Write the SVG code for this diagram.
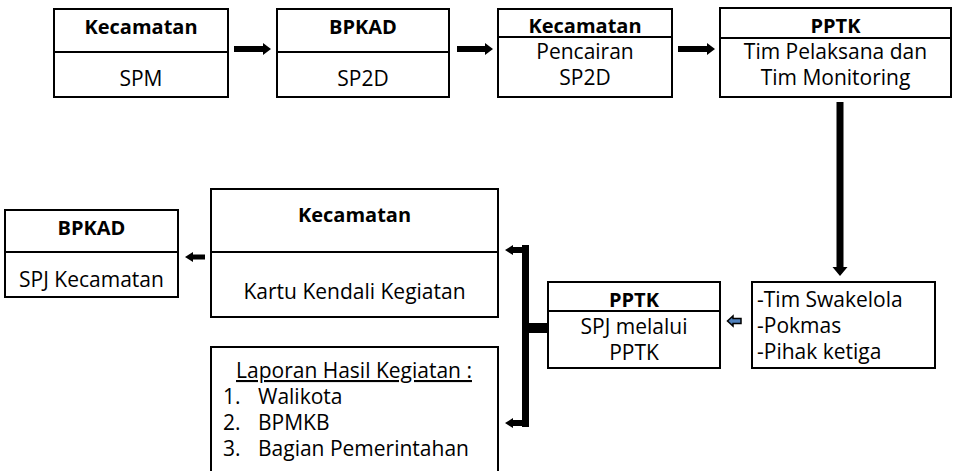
<svg xmlns="http://www.w3.org/2000/svg" width="954" height="471" viewBox="0 0 954 471">
<style>
.box{fill:#fff;stroke:#000;stroke-width:2}
.div{stroke:#000;stroke-width:2}
text{font-family:"Open Sans","Noto Sans","Liberation Sans",sans-serif;font-size:21px;fill:#000}
.c{text-anchor:middle}
.b{font-weight:bold;font-size:20px}
.arr{fill:#000;stroke:none}
</style>
<rect width="954" height="471" fill="#fff"/>
<g id="n1">
<rect class="box" x="54" y="9" width="174" height="88"/>
<line class="div" x1="54" y1="52" x2="228" y2="52"/>
<text class="c b" x="141" y="34">Kecamatan</text>
<text class="c" x="141" y="86">SPM</text>
</g>
<g id="n2">
<rect class="box" x="277" y="9" width="172" height="88"/>
<line class="div" x1="277" y1="52" x2="449" y2="52"/>
<text class="c b" x="363" y="34">BPKAD</text>
<text class="c" x="363" y="86">SP2D</text>
</g>
<g id="n3">
<rect class="box" x="498" y="9" width="174" height="88"/>
<line class="div" x1="498" y1="37" x2="672" y2="37"/>
<text class="c b" x="585" y="33">Kecamatan</text>
<text class="c"><tspan x="585" y="59">Pencairan</tspan><tspan x="585" y="85">SP2D</tspan></text>
</g>
<g id="n4">
<rect class="box" x="720" y="8" width="231" height="89"/>
<line class="div" x1="720" y1="38" x2="951" y2="38"/>
<text class="c b" x="835.5" y="33">PPTK</text>
<text class="c"><tspan x="835.5" y="59">Tim Pelaksana dan</tspan><tspan x="835.5" y="85">Tim Monitoring</tspan></text>
</g>
<g id="n5">
<rect class="box" x="752" y="282" width="183" height="86"/>
<text><tspan x="757" y="307">-Tim Swakelola</tspan><tspan x="757" y="333">-Pokmas</tspan><tspan x="757" y="359">-Pihak ketiga</tspan></text>
</g>
<g id="n6">
<rect class="box" x="548" y="282" width="172" height="86"/>
<line class="div" x1="548" y1="311" x2="720" y2="311"/>
<text class="c b" x="634" y="307">PPTK</text>
<text class="c"><tspan x="634" y="334">SPJ melalui</tspan><tspan x="634" y="360">PPTK</tspan></text>
</g>
<g id="n7">
<rect class="box" x="211" y="189" width="287" height="128"/>
<line class="div" x1="211" y1="252" x2="498" y2="252"/>
<text class="c b" x="354.5" y="222">Kecamatan</text>
<text class="c" x="354.5" y="299">Kartu Kendali Kegiatan</text>
</g>
<g id="n8">
<rect class="box" x="211" y="347" width="287" height="140"/>
<text class="c" x="354" y="378" text-decoration="underline">Laporan Hasil Kegiatan :</text>
<text><tspan x="223" y="404">1.</tspan><tspan x="258" y="404">Walikota</tspan><tspan x="223" y="430">2.</tspan><tspan x="258" y="430">BPMKB</tspan><tspan x="223" y="456">3.</tspan><tspan x="258" y="456">Bagian Pemerintahan</tspan></text>
</g>
<g id="n9">
<rect class="box" x="5" y="210" width="173" height="87"/>
<line class="div" x1="5" y1="252" x2="178" y2="252"/>
<text class="c b" x="91.5" y="235">BPKAD</text>
<text class="c" x="91.5" y="287">SPJ Kecamatan</text>
</g>
<g id="connectors">
<polygon class="arr" points="234,46 263,46 263,43 271,49 263,55 263,52 234,52"/>
<polygon class="arr" points="457,46 485,46 485,43 493,49 485,55 485,52 457,52"/>
<polygon class="arr" points="678,46 707,46 707,43 715,49 707,55 707,52 678,52"/>
<polygon class="arr" points="836.5,102 843.5,102 843.5,267 847.5,267 840,276 832.5,267 836.5,267"/>
<polygon points="741,318.5 733,318.5 733,316 727.5,321 733,326 733,323.5 741,323.5" fill="#4f81bd" stroke="#000" stroke-width="1.5"/>
<polygon class="arr" points="205,254.5 193,254.5 193,252 185,257 193,262 193,259.5 205,259.5"/>
<polygon class="arr" points="522,245 529,245 529,427 522,427"/>
<polygon class="arr" points="529,247 513,247 513,245 505,250 513,255 513,253 529,253"/>
<polygon class="arr" points="529,420 513,420 513,418 505,423 513,428 513,426 529,426"/>
<rect class="arr" x="522" y="323" width="26" height="10"/>
</g>
</svg>
